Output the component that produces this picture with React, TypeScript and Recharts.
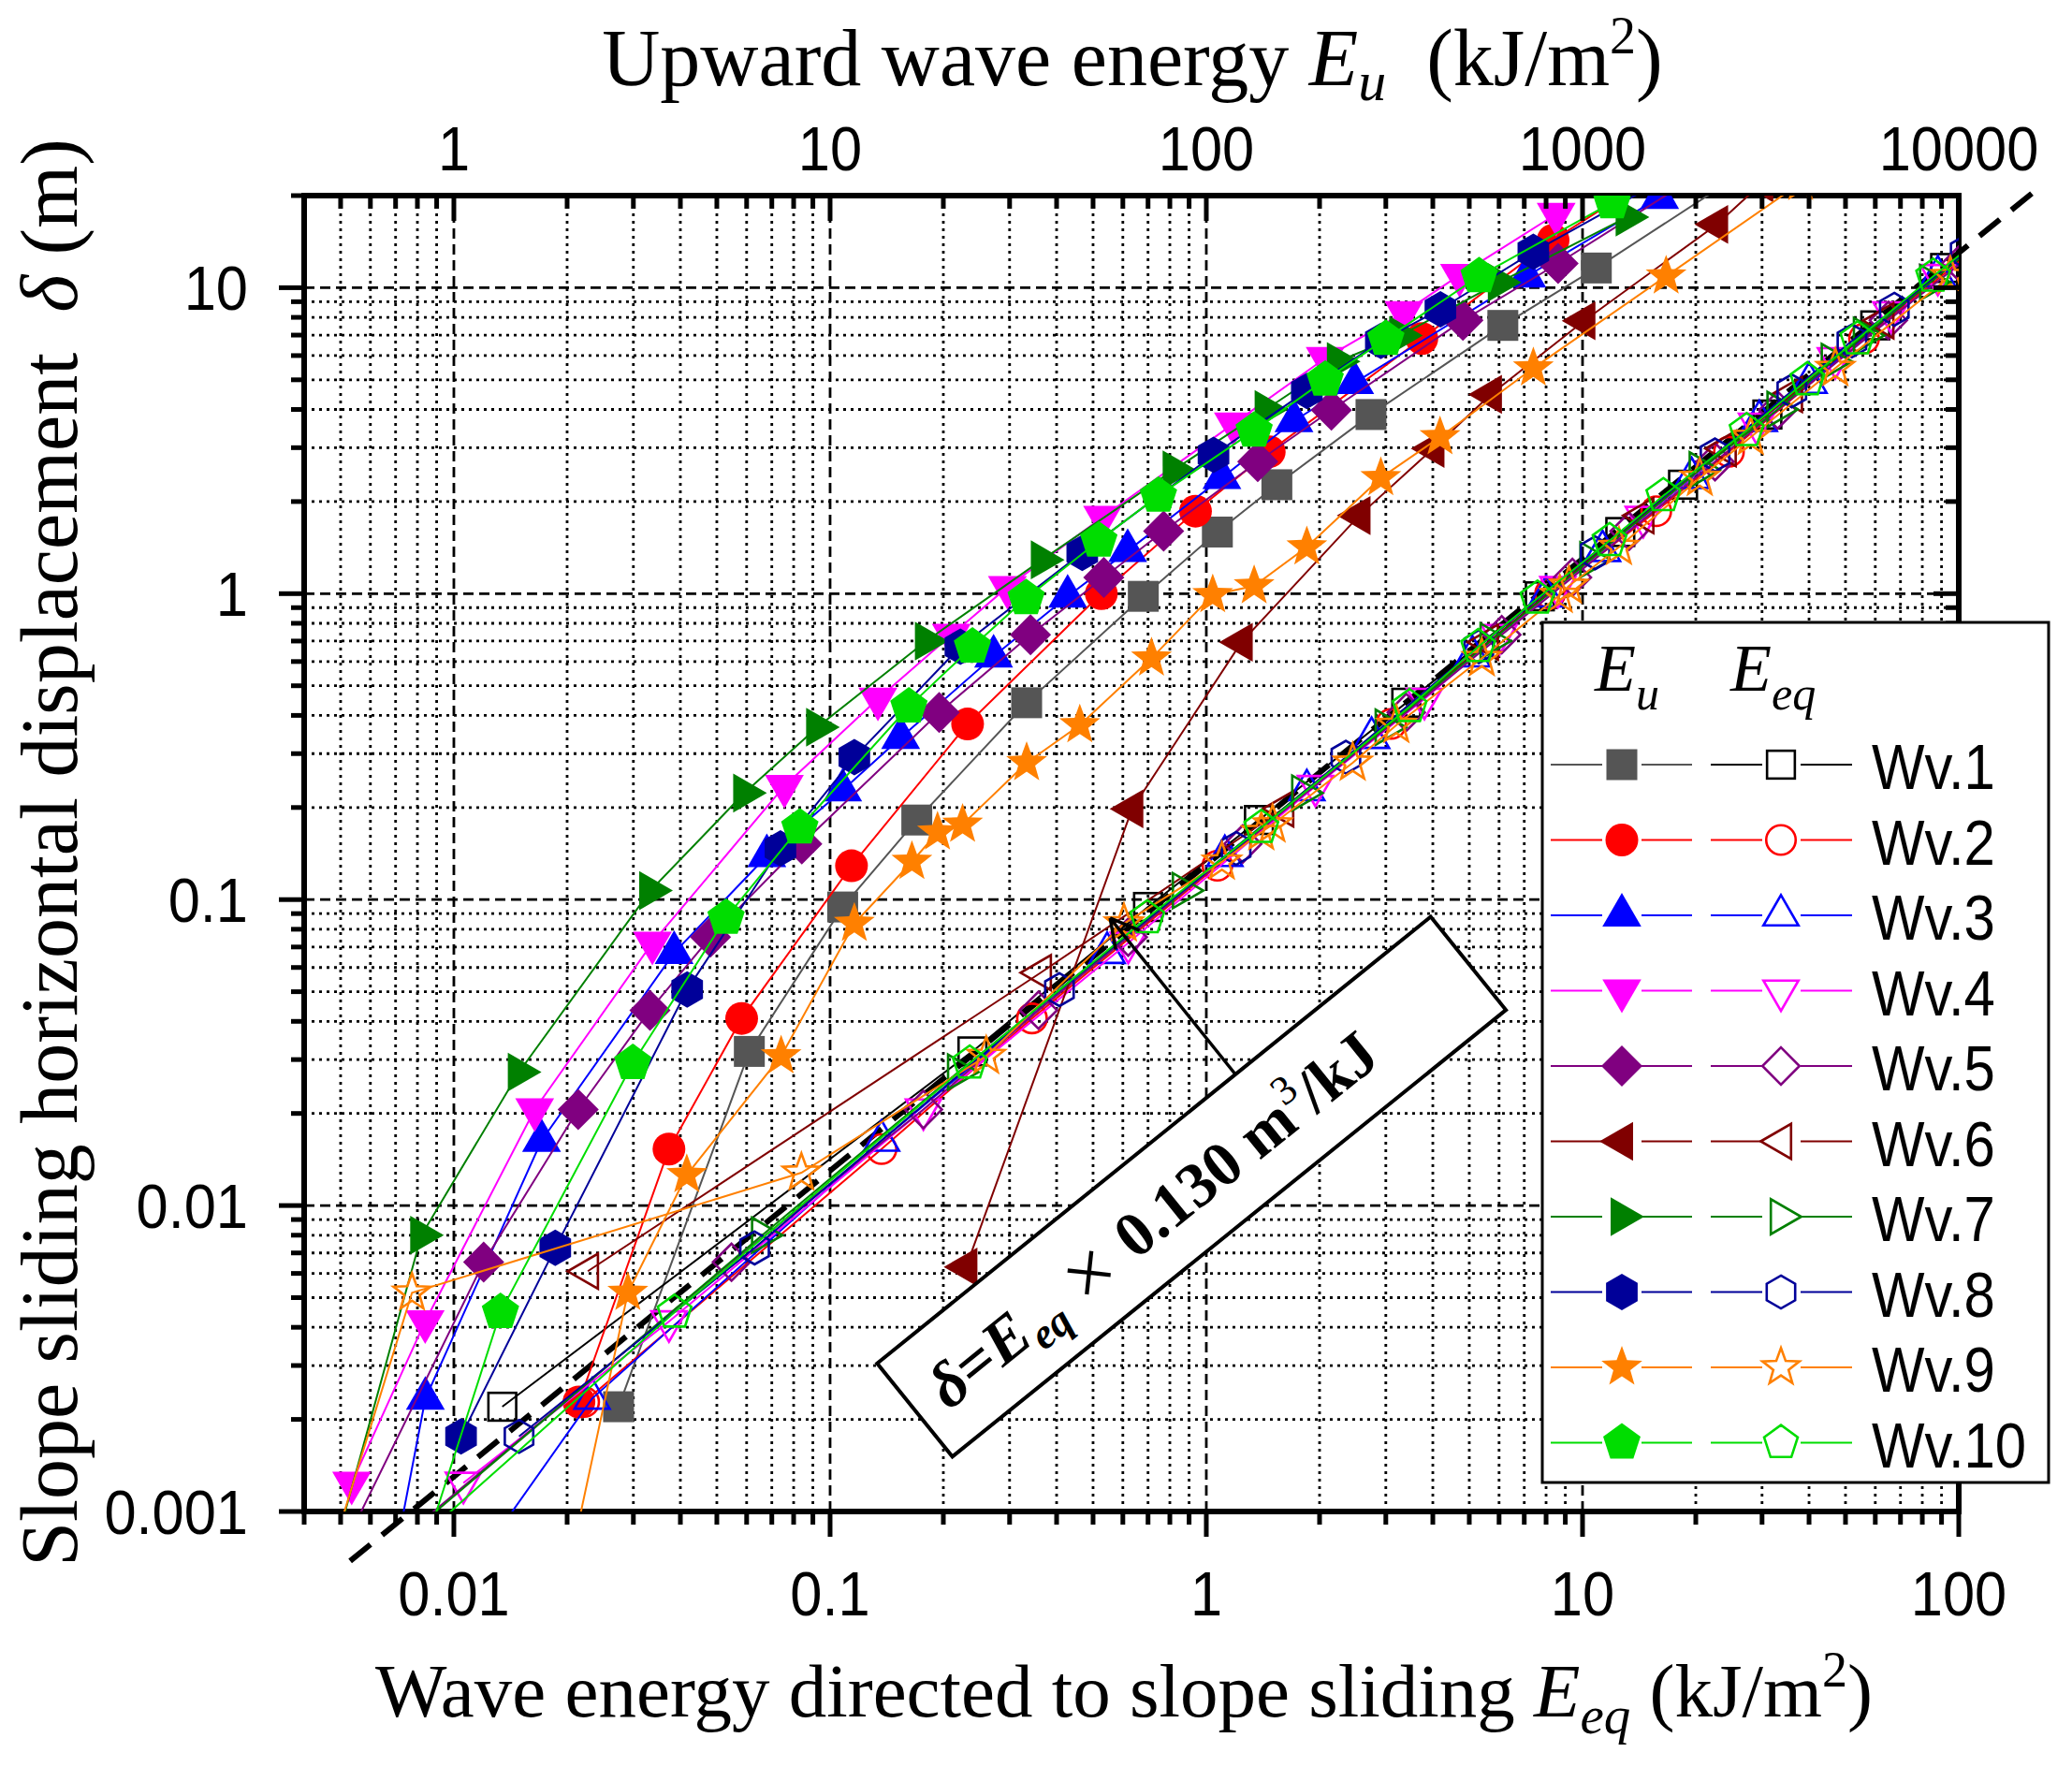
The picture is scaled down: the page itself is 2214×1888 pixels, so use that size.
import React from 'react';
import { ComposedChart, Scatter, XAxis, YAxis, ReferenceLine, ReferenceDot } from 'recharts';

type Pt = [number, number];

// filled symbols: [E_u (kJ/m2), delta (m)]   open symbols: [E_eq (kJ/m2), delta (m)]
const WV1_EU: Pt[] = [[2.74, 0.0022], [6.1, 0.0319], [10.8, 0.0946], [17.0, 0.182], [33.3, 0.44], [68, 0.98], [107, 1.59], [154, 2.27], [274, 3.85], [614, 7.53], [1088, 11.6], [2700, 24]];
const WV1_EQ: Pt[] = [[0.01345, 0.0022], [0.239, 0.0319], [0.7, 0.0946], [1.38, 0.182], [3.4, 0.44], [7.7, 0.98], [12.6, 1.59], [18.5, 2.27], [31, 3.85], [60, 7.53], [92, 11.6]];
const WV2_EU: Pt[] = [[2.15, 0.00228], [3.73, 0.0153], [5.82, 0.0409], [11.4, 0.129], [23.2, 0.375], [52.6, 1.0], [93.6, 1.86], [147, 2.91], [374, 6.82], [835, 14.3], [1700, 25]];
const WV2_EQ: Pt[] = [[0.0222, 0.00228], [0.137, 0.0153], [0.344, 0.0409], [1.07, 0.129], [3.1, 0.375], [8.2, 1.0], [15.7, 1.86], [24.5, 2.91], [56, 6.82], [118, 14.3]];
const WV3_EU: Pt[] = [[0.66, 0.0005], [0.84, 0.00234], [1.71, 0.0163], [3.85, 0.067], [6.79, 0.139], [10.8, 0.228], [15.4, 0.338], [27.2, 0.624], [42.8, 0.98], [61.8, 1.38], [110, 2.39], [171, 3.67], [248, 4.89], [711, 10.9], [1603, 19.7]];
const WV3_EQ: Pt[] = [[0.0096, 0.0005], [0.0233, 0.00234], [0.137, 0.0163], [0.545, 0.067], [1.12, 0.139], [1.85, 0.228], [2.75, 0.338], [5.1, 0.624], [8.0, 0.98], [11.3, 1.38], [19.5, 2.39], [29.5, 3.67], [40, 4.89], [88, 10.9]];
const WV4_EU: Pt[] = [[0.535, 0.00124], [0.839, 0.00418], [1.64, 0.0206], [3.37, 0.0722], [7.56, 0.235], [13.4, 0.453], [21, 0.732], [29.6, 1.05], [53, 1.78], [118, 3.59], [207, 5.88], [335, 8.3], [471, 11.0], [851, 17.4]];
const WV4_EQ: Pt[] = [[0.0106, 0.00124], [0.0373, 0.00418], [0.177, 0.0206], [0.62, 0.0722], [1.95, 0.235], [3.8, 0.453], [6.0, 0.732], [8.6, 1.05], [14.5, 1.78], [29, 3.59], [47, 5.88], [66, 8.3], [88, 11.0], [140, 17.4]];
const WV5_EU: Pt[] = [[0.43, 0.0005], [1.2, 0.00653], [2.14, 0.0206], [3.32, 0.0435], [4.81, 0.0754], [8.41, 0.152], [19.5, 0.409], [34.1, 0.734], [53.4, 1.13], [77, 1.6], [137, 2.7], [215, 3.98], [481, 7.82], [861, 12.0], [2100, 24]];
const WV5_EQ: Pt[] = [[0.0045, 0.0005], [0.0547, 0.00653], [0.177, 0.0206], [0.358, 0.0435], [0.62, 0.0754], [1.25, 0.152], [3.4, 0.409], [6.1, 0.734], [9.4, 1.13], [13.3, 1.6], [22.5, 2.7], [33, 3.98], [65, 7.82], [101, 12.0]];
const WV6_EU: Pt[] = [[23, 0.0063], [63.5, 0.198], [124, 0.694], [255, 1.8], [401, 2.98], [570, 4.48], [1010, 7.8], [2276, 16.1], [3000, 22]];
const WV6_EQ: Pt[] = [[0.0227, 0.0061], [0.363, 0.0577], [1.6, 0.198], [5.6, 0.694], [14.5, 1.8], [24, 2.98], [36, 4.48], [63, 7.8], [130, 16.1]];
const WV7_EU: Pt[] = [[0.44, 0.0005], [0.82, 0.008], [1.49, 0.0273], [3.33, 0.107], [5.92, 0.223], [9.25, 0.366], [18, 0.7], [36.6, 1.29], [82, 2.54], [144, 4.0], [224, 5.74], [328, 6.98], [600, 10.4], [1312, 17]];
const WV7_EQ: Pt[] = [[0.0046, 0.0005], [0.066, 0.008], [0.219, 0.0273], [0.867, 0.107], [1.8, 0.223], [3.0, 0.366], [5.7, 0.7], [10.5, 1.29], [20.5, 2.54], [33, 4.0], [46, 5.74], [56, 6.98], [84, 10.4], [136, 17]];
const WV8_EU: Pt[] = [[1.045, 0.00176], [1.86, 0.00727], [4.17, 0.0508], [7.38, 0.147], [11.6, 0.292], [22.2, 0.671], [46.8, 1.36], [104.5, 2.84], [185, 4.6], [291, 6.7], [419, 8.5], [740, 13.1], [1800, 24]];
const WV8_EQ: Pt[] = [[0.0149, 0.00176], [0.063, 0.00727], [0.407, 0.0508], [1.2, 0.147], [2.35, 0.292], [5.3, 0.671], [10.8, 1.36], [22.5, 2.84], [36, 4.6], [52, 6.7], [67.4, 8.5], [104, 13.1]];
const WV9_EU: Pt[] = [[1.93, 0.0005], [2.9, 0.00519], [4.16, 0.0126], [7.41, 0.0308], [11.6, 0.0835], [16.5, 0.133], [19.3, 0.166], [22.5, 0.176], [33.3, 0.28], [46.1, 0.372], [71.5, 0.615], [104, 0.99], [134, 1.06], [185, 1.42], [291, 2.39], [418, 3.25], [740, 5.46], [1668, 10.9], [3800, 22]];
const WV9_EQ: Pt[] = [[0.0043, 0.0005], [0.00774, 0.00519], [0.0839, 0.0128], [0.26, 0.0308], [0.604, 0.0835], [1.1, 0.133], [1.4, 0.166], [1.5, 0.176], [2.45, 0.28], [3.2, 0.372], [5.4, 0.615], [8.7, 0.99], [9.2, 1.06], [12.5, 1.42], [20.5, 2.39], [28, 3.25], [47, 5.46], [95, 10.9]];
const WV10_EU: Pt[] = [[0.75, 0.0005], [1.33, 0.00448], [2.99, 0.0292], [5.29, 0.0872], [8.31, 0.172], [16.2, 0.427], [23.9, 0.671], [33.2, 0.966], [51.8, 1.49], [74.6, 2.09], [134, 3.41], [207, 5.0], [300, 6.8], [531, 10.9], [1198, 19.0]];
const WV10_EQ: Pt[] = [[0.0052, 0.0005], [0.0386, 0.00448], [0.235, 0.0292], [0.697, 0.0872], [1.4, 0.172], [3.47, 0.427], [5.28, 0.671], [7.59, 0.966], [11.8, 1.49], [16.4, 2.09], [27.3, 3.41], [39.6, 5.0], [53.8, 6.8], [85.5, 10.9], [150, 19.0]];

const SERIES = [
  { name: 'Wv.1', kind: 'square', color: '#555555', eqColor: '#000000', eu: WV1_EU, eq: WV1_EQ },
  { name: 'Wv.2', kind: 'circle', color: '#ff0000', eqColor: '#ff0000', eu: WV2_EU, eq: WV2_EQ },
  { name: 'Wv.3', kind: 'up', color: '#0000ff', eqColor: '#0000ff', eu: WV3_EU, eq: WV3_EQ },
  { name: 'Wv.4', kind: 'down', color: '#ff00ff', eqColor: '#ff00ff', eu: WV4_EU, eq: WV4_EQ },
  { name: 'Wv.5', kind: 'diamond', color: '#800080', eqColor: '#800080', eu: WV5_EU, eq: WV5_EQ },
  { name: 'Wv.6', kind: 'left', color: '#800000', eqColor: '#800000', eu: WV6_EU, eq: WV6_EQ },
  { name: 'Wv.7', kind: 'right', color: '#008000', eqColor: '#008000', eu: WV7_EU, eq: WV7_EQ },
  { name: 'Wv.8', kind: 'hexagon', color: '#000099', eqColor: '#000099', eu: WV8_EU, eq: WV8_EQ },
  { name: 'Wv.9', kind: 'star', color: '#ff8000', eqColor: '#ff8000', eu: WV9_EU, eq: WV9_EQ },
  { name: 'Wv.10', kind: 'pentagon', color: '#00dd00', eqColor: '#00dd00', eu: WV10_EU, eq: WV10_EQ },
];

const X_DOMAIN = [0.004, 100];
const TOP_DOMAIN = [0.4, 10000];
const Y_DOMAIN = [0.001, 20];
const X_MAJOR = [0.01, 0.1, 1, 10, 100];
const TOP_MAJOR = [1, 10, 100, 1000, 10000];
const Y_MAJOR = [0.001, 0.01, 0.1, 1, 10];

// fitted relation drawn in the figure: delta = 0.130 * E_eq
const FIT_SLOPE = 0.13;
const FIT_RANGE = [0.0053, 165];

const W = 2214;
const H = 1888;
// axes are 1px wide / high, so the plot area runs 325..2093 x 209..1615
const MARGIN = { top: 208, right: 120, bottom: 272, left: 324 };
const SANS = "'Liberation Sans', Arial, Helvetica, sans-serif";
const SERIF = "'Liberation Serif', 'Times New Roman', Times, serif";

function logTicks(lo: number, hi: number) {
  const out: number[] = [];
  for (let k = -4; k <= 5; k++) {
    for (let m = 1; m <= 9; m++) {
      const v = parseFloat((m * Math.pow(10, k)).toPrecision(6));
      if (v >= lo * 0.999999 && v <= hi * 1.000001) out.push(v);
    }
  }
  return out;
}
const isMajor = (v: number, majors: number[]) => majors.some((m) => Math.abs(m - v) / m < 1e-6);

const X_TICKS = logTicks(X_DOMAIN[0], X_DOMAIN[1]);
const TOP_TICKS = logTicks(TOP_DOMAIN[0], TOP_DOMAIN[1]);
const Y_TICKS = logTicks(Y_DOMAIN[0], Y_DOMAIN[1]);

function makeTick(side: 'bottom' | 'top' | 'left' | 'right', majors: number[]) {
  return (props: any) => {
    const { x, y, payload } = props;
    const v = payload.value;
    const major = isMajor(v, majors);
    const len = major ? 27 : 14;
    let line;
    let label = null;
    const txt = (tx: number, ty: number, anchor: string) => (
      <text transform={`translate(${tx},${ty}) scale(0.93,1)`} textAnchor={anchor} fontFamily={SANS} fontSize={66} fill="#000">
        {String(v)}
      </text>
    );
    if (side === 'bottom') {
      line = <line x1={x} y1={y} x2={x} y2={y + len} stroke="#000" strokeWidth={5} />;
      if (major) label = txt(x, y + 111, 'middle');
    } else if (side === 'top') {
      line = <line x1={x} y1={y} x2={x} y2={y + len} stroke="#000" strokeWidth={5} />;
      if (major) label = txt(x, y - 27, 'middle');
    } else if (side === 'left') {
      line = <line x1={x - len} y1={y} x2={x} y2={y} stroke="#000" strokeWidth={5} />;
      if (major) label = txt(x - 60, y + 24, 'end');
    } else {
      line = <line x1={x - len} y1={y} x2={x} y2={y} stroke="#000" strokeWidth={5} />;
    }
    return (
      <g>
        {line}
        {label}
      </g>
    );
  };
}

function poly(n: number, r: number, start: number, cx: number, cy: number) {
  const pts: string[] = [];
  for (let i = 0; i < n; i++) {
    const a = ((start + (i * 360) / n) * Math.PI) / 180;
    pts.push(`${cx + r * Math.cos(a)},${cy + r * Math.sin(a)}`);
  }
  return pts.join(' ');
}

function starPts(ro: number, ri: number, cx: number, cy: number) {
  const pts: string[] = [];
  for (let i = 0; i < 10; i++) {
    const r = i % 2 === 0 ? ro : ri;
    const a = ((-90 + i * 36) * Math.PI) / 180;
    pts.push(`${cx + r * Math.cos(a)},${cy + r * Math.sin(a)}`);
  }
  return pts.join(' ');
}

function Marker({ kind, cx, cy, color, filled }: { kind: string; cx: number; cy: number; color: string; filled: boolean }) {
  if (cx == null || cy == null || isNaN(cx) || isNaN(cy)) return null;
  const k = filled ? 1 : 0.9;
  const style = filled
    ? { fill: color, stroke: 'none' }
    : { fill: 'none', stroke: color, strokeWidth: 2.6 };
  switch (kind) {
    case 'square':
      return <rect x={cx - 16.5 * k} y={cy - 16.5 * k} width={33 * k} height={33 * k} {...style} />;
    case 'circle':
      return <circle cx={cx} cy={cy} r={17.5 * k} {...style} />;
    case 'up':
      return <polygon points={poly(3, 24 * k, -90, cx, cy)} {...style} />;
    case 'down':
      return <polygon points={poly(3, 24 * k, 90, cx, cy)} {...style} />;
    case 'left':
      return <polygon points={poly(3, 24 * k, 180, cx, cy)} {...style} />;
    case 'right':
      return <polygon points={poly(3, 24 * k, 0, cx, cy)} {...style} />;
    case 'diamond':
      return <polygon points={poly(4, 22 * k, -90, cx, cy)} {...style} />;
    case 'hexagon':
      return <polygon points={poly(6, 19.5 * k, -90, cx, cy)} {...style} />;
    case 'pentagon':
      return <polygon points={poly(5, 21 * k, -90, cx, cy)} {...style} />;
    case 'star':
      return <polygon points={starPts(23 * k, 9.5 * k, cx, cy)} {...style} />;
    default:
      return null;
  }
}

const toXY = (pts: Pt[]) => pts.map(([x, y]) => ({ x, y }));

function Annotation(props: any) {
  const { cx, cy } = props;
  if (cx == null) return null;
  const tailX = cx + 138;
  const tailY = cy + 172;
  const ang = Math.atan2(cy - tailY, cx - tailX);
  const head = (d: number) => {
    const a = ang + Math.PI + d;
    return <line x1={cx} y1={cy} x2={cx + 34 * Math.cos(a)} y2={cy + 34 * Math.sin(a)} stroke="#000" strokeWidth={3.5} />;
  };
  return (
    <g>
      <line x1={tailX} y1={tailY} x2={cx} y2={cy} stroke="#000" strokeWidth={3.5} />
      {head(0.5)}
      {head(-0.5)}
      <g transform={`translate(${cx + 87},${cy + 287}) rotate(-38.9)`}>
        <rect x={-380} y={-64} width={760} height={128} fill="#fff" stroke="#000" strokeWidth={4} />
        <text x={-352} y={24} fontFamily={SERIF} fontSize={68} fontWeight="bold" fill="#000" style={{ whiteSpace: 'pre' }}>
          <tspan fontStyle="italic">δ</tspan>
          <tspan>=</tspan>
          <tspan fontStyle="italic">E</tspan>
          <tspan fontStyle="italic" fontSize={46} dy={14}>eq</tspan>
          <tspan dy={-6} fontWeight="normal" fontSize={88}>{' × '}</tspan>
          <tspan dy={-8}>{'0.130 m'}</tspan>
          <tspan fontSize={44} dy={-28} fontWeight="normal">3</tspan>
          <tspan dy={28}>/kJ</tspan>
        </text>
      </g>
    </g>
  );
}

function Overlay() {
  const rowY = (i: number) => 817 + i * 80.5;
  return (
    <svg width={W} height={H} style={{ position: 'absolute', left: 0, top: 0, pointerEvents: 'none' }}>
      {/* axis titles */}
      <text x={1210} y={91} textAnchor="middle" fontFamily={SERIF} fontSize={86} fill="#000" style={{ whiteSpace: 'pre' }}>
        <tspan>Upward wave energy </tspan>
        <tspan fontStyle="italic">E</tspan>
        <tspan fontStyle="italic" fontSize={60} dy={16}>u</tspan>
        <tspan dy={-16}>{'  (kJ/m'}</tspan>
        <tspan fontSize={56} dy={-34}>2</tspan>
        <tspan dy={34}>)</tspan>
      </text>
      <text x={1201} y={1834} textAnchor="middle" fontFamily={SERIF} fontSize={81} fill="#000" style={{ whiteSpace: 'pre' }}>
        <tspan>Wave energy directed to slope sliding </tspan>
        <tspan fontStyle="italic">E</tspan>
        <tspan fontStyle="italic" fontSize={57} dy={18}>eq</tspan>
        <tspan dy={-18}>{' (kJ/m'}</tspan>
        <tspan fontSize={54} dy={-32}>2</tspan>
        <tspan dy={32}>)</tspan>
      </text>
      <text transform="translate(82,911) rotate(-90)" textAnchor="middle" fontFamily={SERIF} fontSize={86} fill="#000" style={{ whiteSpace: 'pre' }}>
        <tspan>{'Slope sliding horizontal displacement  '}</tspan>
        <tspan fontStyle="italic">δ</tspan>
        <tspan>{' (m)'}</tspan>
      </text>

      {/* legend */}
      <rect x={1648} y={665} width={541} height={919} fill="#fff" stroke="#000" strokeWidth={3} />
      <text x={1704} y={738} fontFamily={SERIF} fontStyle="italic" fontSize={72} fill="#000">
        E<tspan fontSize={50} dy={20}>u</tspan>
      </text>
      <text x={1849} y={738} fontFamily={SERIF} fontStyle="italic" fontSize={72} fill="#000">
        E<tspan fontSize={50} dy={20}>eq</tspan>
      </text>
      {SERIES.map((s, i) => {
        const y = rowY(i);
        return (
          <g key={s.name}>
            <line x1={1657} y1={y} x2={1712} y2={y} stroke={s.color} strokeWidth={2} />
            <line x1={1754} y1={y} x2={1808} y2={y} stroke={s.color} strokeWidth={2} />
            <Marker kind={s.kind} cx={1733} cy={y} color={s.color} filled />
            <line x1={1828} y1={y} x2={1883} y2={y} stroke={s.eqColor} strokeWidth={2} />
            <line x1={1924} y1={y} x2={1979} y2={y} stroke={s.eqColor} strokeWidth={2} />
            <Marker kind={s.kind} cx={1903} cy={y} color={s.eqColor} filled={false} />
            <text transform={`translate(2000,${y + 26}) scale(0.88,1)`} fontFamily={SANS} fontSize={68} fill="#000">
              {s.name}
            </text>
          </g>
        );
      })}
    </svg>
  );
}

export default function App() {
  const axisLine = { stroke: '#000', strokeWidth: 6, strokeLinecap: 'square' as const };
  return (
    <div style={{ position: 'absolute', left: 0, top: 0, width: W, height: H, background: '#fff' }}>
      <ComposedChart width={W} height={H} margin={MARGIN}>
        <XAxis
          xAxisId="bottom"
          orientation="bottom"
          type="number"
          dataKey="x"
          scale="log"
          domain={X_DOMAIN}
          allowDataOverflow
          ticks={X_TICKS}
          interval={0}
          tickSize={0}
          tickMargin={0}
          tickLine={false}
          tick={makeTick('bottom', X_MAJOR)}
          axisLine={axisLine}
          height={1}
        />
        <XAxis
          xAxisId="top"
          orientation="top"
          type="number"
          dataKey="x"
          scale="log"
          domain={TOP_DOMAIN}
          allowDataOverflow
          ticks={TOP_TICKS}
          interval={0}
          tickSize={0}
          tickMargin={0}
          tickLine={false}
          tick={makeTick('top', TOP_MAJOR)}
          axisLine={axisLine}
          height={1}
        />
        <YAxis
          yAxisId="left"
          orientation="left"
          type="number"
          dataKey="y"
          scale="log"
          domain={Y_DOMAIN}
          allowDataOverflow
          ticks={Y_TICKS}
          interval={0}
          tickSize={0}
          tickMargin={0}
          tickLine={false}
          tick={makeTick('left', Y_MAJOR)}
          axisLine={axisLine}
          width={1}
        />
        <YAxis
          yAxisId="right"
          orientation="right"
          type="number"
          dataKey="y"
          scale="log"
          domain={Y_DOMAIN}
          allowDataOverflow
          ticks={Y_TICKS}
          interval={0}
          tickSize={0}
          tickMargin={0}
          tickLine={false}
          tick={makeTick('right', Y_MAJOR)}
          axisLine={axisLine}
          width={1}
        />

        {/* grid */}
        {X_TICKS.filter((v) => v > X_DOMAIN[0] && v < X_DOMAIN[1]).map((v) => (
          <ReferenceLine
            key={'gx' + v}
            xAxisId="bottom"
            yAxisId="left"
            x={v}
            stroke="#000"
            strokeWidth={isMajor(v, X_MAJOR) ? 2.8 : 2.8}
            strokeDasharray={isMajor(v, X_MAJOR) ? '11 6' : '3 5'}
          />
        ))}
        {Y_TICKS.filter((v) => v > Y_DOMAIN[0] && v < Y_DOMAIN[1]).map((v) => (
          <ReferenceLine
            key={'gy' + v}
            xAxisId="bottom"
            yAxisId="left"
            y={v}
            stroke="#000"
            strokeWidth={isMajor(v, Y_MAJOR) ? 2.8 : 2.8}
            strokeDasharray={isMajor(v, Y_MAJOR) ? '11 6' : '3 5'}
          />
        ))}

        {SERIES.map((s) => [
          <Scatter
            key={s.name + '-eu'}
            name={s.name + ' Eu'}
            data={toXY(s.eu)}
            xAxisId="top"
            yAxisId="left"
            fill={s.color}
            isAnimationActive={false}
            line={{ stroke: s.color, strokeWidth: 2 }}
            shape={(p: any) => <Marker kind={s.kind} cx={p.cx} cy={p.cy} color={s.color} filled />}
          />,
          <Scatter
            key={s.name + '-eq'}
            name={s.name + ' Eeq'}
            data={toXY(s.eq)}
            xAxisId="bottom"
            yAxisId="left"
            fill={s.eqColor}
            isAnimationActive={false}
            line={{ stroke: s.eqColor, strokeWidth: 2 }}
            shape={(p: any) => <Marker kind={s.kind} cx={p.cx} cy={p.cy} color={s.eqColor} filled={false} />}
          />,
        ])}

        <ReferenceLine
          xAxisId="bottom"
          yAxisId="left"
          segment={[
            { x: FIT_RANGE[0], y: FIT_SLOPE * FIT_RANGE[0] },
            { x: FIT_RANGE[1], y: FIT_SLOPE * FIT_RANGE[1] },
          ]}
          ifOverflow="visible"
          stroke="#000"
          strokeWidth={6}
          strokeDasharray="28 16"
        />
        <ReferenceDot
          xAxisId="bottom"
          yAxisId="left"
          x={0.555}
          y={0.087}
          ifOverflow="visible"
          shape={Annotation}
        />
      </ComposedChart>
      <Overlay />
    </div>
  );
}
